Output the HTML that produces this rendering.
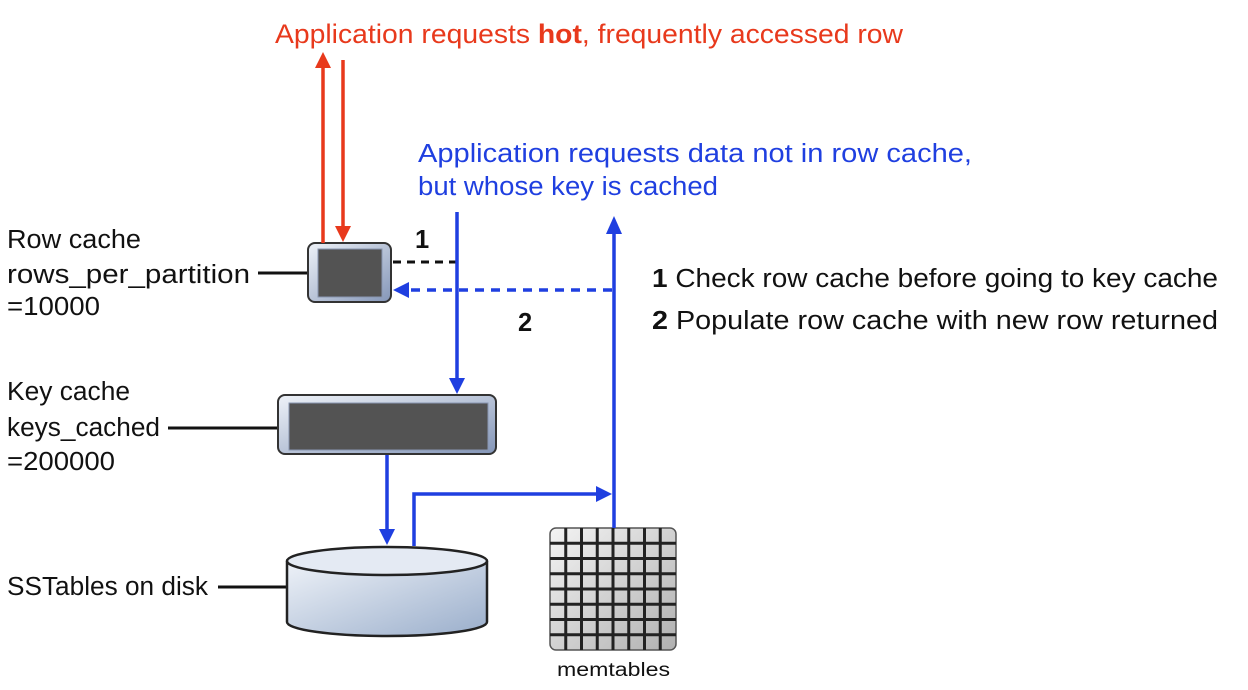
<!DOCTYPE html>
<html><head><meta charset="utf-8"><style>
html,body{margin:0;padding:0;background:#fff;}
svg{display:block;}
text{font-family:"Liberation Sans",sans-serif;}
</style></head><body>
<svg width="1248" height="690" viewBox="0 0 1248 690" xmlns="http://www.w3.org/2000/svg">
<defs>
<linearGradient id="bx" x1="0" y1="0" x2="1" y2="1">
<stop offset="0" stop-color="#eef2f8"/><stop offset="1" stop-color="#8496b8"/>
</linearGradient>
<linearGradient id="cyl" x1="0" y1="0" x2="1" y2="1">
<stop offset="0" stop-color="#eef2f8"/><stop offset="1" stop-color="#9aaecb"/>
</linearGradient>
<linearGradient id="mem" x1="0" y1="0" x2="1" y2="1">
<stop offset="0" stop-color="#f4f4f4"/><stop offset="1" stop-color="#b0b0b0"/>
</linearGradient>
</defs>

<text x="275" y="43" font-size="26.5" fill="#e8391c" textLength="628" lengthAdjust="spacingAndGlyphs">Application requests <tspan font-weight="bold">hot</tspan>, frequently accessed row</text>
<text x="418" y="162" font-size="25.5" fill="#1f3fe0" textLength="554" lengthAdjust="spacingAndGlyphs">Application requests data not in row cache,</text>
<text x="418" y="195" font-size="25.5" fill="#1f3fe0" textLength="300" lengthAdjust="spacingAndGlyphs">but whose key is cached</text>

<g font-size="25.5" fill="#111">
<text x="7" y="248" textLength="134" lengthAdjust="spacingAndGlyphs">Row cache</text>
<text x="7" y="283" textLength="243" lengthAdjust="spacingAndGlyphs">rows_per_partition</text>
<text x="7" y="315" textLength="93" lengthAdjust="spacingAndGlyphs">=10000</text>
<text x="7" y="400" textLength="123" lengthAdjust="spacingAndGlyphs">Key cache</text>
<text x="7" y="436" textLength="153" lengthAdjust="spacingAndGlyphs">keys_cached</text>
<text x="7" y="470" textLength="108" lengthAdjust="spacingAndGlyphs">=200000</text>
<text x="7" y="595" textLength="201" lengthAdjust="spacingAndGlyphs">SSTables on disk</text>
<text x="652" y="287" textLength="566" lengthAdjust="spacingAndGlyphs"><tspan font-weight="bold">1</tspan> Check row cache before going to key cache</text>
<text x="652" y="329" textLength="566" lengthAdjust="spacingAndGlyphs"><tspan font-weight="bold">2</tspan> Populate row cache with new row returned</text>
<text x="415" y="248" font-weight="bold">1</text>
<text x="518" y="331" font-weight="bold">2</text>
</g>
<text x="557" y="676" font-size="19" fill="#111" textLength="113" lengthAdjust="spacingAndGlyphs">memtables</text>

<g stroke="#111" stroke-width="3">
<line x1="258" y1="273" x2="308" y2="273"/>
<line x1="168" y1="428" x2="278" y2="428"/>
<line x1="218" y1="587" x2="288" y2="587"/>
</g>

<rect x="308" y="243" width="83" height="59" rx="7" fill="url(#bx)" stroke="#333" stroke-width="2"/>
<rect x="318" y="249" width="64" height="48" fill="#535353" stroke="#8896b0" stroke-width="1"/>

<rect x="278" y="395" width="218" height="59" rx="7" fill="url(#bx)" stroke="#333" stroke-width="2"/>
<rect x="289" y="403" width="199" height="47" fill="#535353" stroke="#8896b0" stroke-width="1"/>

<path d="M287 561 L287 622 A100 14 0 0 0 487 622 L487 561" fill="url(#cyl)" stroke="#222" stroke-width="2.5"/>
<ellipse cx="387" cy="561" rx="100" ry="14" fill="#e4eaf3" stroke="#222" stroke-width="2.5"/>

<rect x="550" y="528" width="126" height="122" rx="6" fill="url(#mem)" stroke="#555" stroke-width="1.5"/>
<g stroke="#222" stroke-width="3">
<line x1="565.75" y1="528" x2="565.75" y2="650"/><line x1="581.5" y1="528" x2="581.5" y2="650"/>
<line x1="597.25" y1="528" x2="597.25" y2="650"/><line x1="613" y1="528" x2="613" y2="650"/>
<line x1="628.75" y1="528" x2="628.75" y2="650"/><line x1="644.5" y1="528" x2="644.5" y2="650"/>
<line x1="660.25" y1="528" x2="660.25" y2="650"/>
<line x1="550" y1="543.25" x2="676" y2="543.25"/><line x1="550" y1="558.5" x2="676" y2="558.5"/>
<line x1="550" y1="573.75" x2="676" y2="573.75"/><line x1="550" y1="589" x2="676" y2="589"/>
<line x1="550" y1="604.25" x2="676" y2="604.25"/><line x1="550" y1="619.5" x2="676" y2="619.5"/>
<line x1="550" y1="634.75" x2="676" y2="634.75"/>
</g>

<g stroke="#e8391c" stroke-width="3.5" fill="none">
<line x1="323" y1="243" x2="323" y2="62"/>
<line x1="343" y1="60" x2="343" y2="232"/>
</g>
<polygon points="323,52 315,68 331,68" fill="#e8391c"/>
<polygon points="343,242 335,226 351,226" fill="#e8391c"/>

<line x1="393" y1="262" x2="457" y2="262" stroke="#111" stroke-width="3" stroke-dasharray="8,6"/>

<g stroke="#1f3fe0" stroke-width="3.5" fill="none">
<line x1="457" y1="212" x2="457" y2="384"/>
<line x1="614" y1="528" x2="614" y2="228"/>
<line x1="612" y1="290" x2="404" y2="290" stroke-dasharray="9,7"/>
<line x1="387" y1="455" x2="387" y2="535"/>
<polyline points="414,546 414,494 602,494"/>
</g>
<polygon points="457,394 449,378 465,378" fill="#1f3fe0"/>
<polygon points="614,216 606,234 622,234" fill="#1f3fe0"/>
<polygon points="393,290 409,282 409,298" fill="#1f3fe0"/>
<polygon points="387,545 379,529 395,529" fill="#1f3fe0"/>
<polygon points="612,494 596,486 596,502" fill="#1f3fe0"/>
</svg>
</body></html>
